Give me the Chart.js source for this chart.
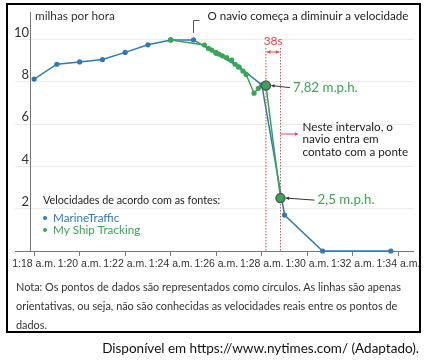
<!DOCTYPE html>
<html>
<head>
<meta charset="utf-8">
<script src="https://cdn.jsdelivr.net/npm/chart.js@4.4.1/dist/chart.umd.min.js"></script>
<style>
    body { margin: 0; background: #fff; }
    #wrap { position: relative; width: 429px; height: 362px; overflow: hidden; }
    #speedChart { position: absolute; left: 0; top: 0; }
    #box {
        position: absolute; left: 6px; top: 3px; width: 415px; height: 330px;
        box-sizing: border-box; border: 2px solid #000;
    }
    #note {
        position: absolute; left: 16px; top: 277px;
        font: 10.9px Lato, sans-serif; line-height: 19px; color: #333; white-space: nowrap;
    }
    #source {
        position: absolute; right: 10px; top: 340px;
        font: 13.5px Lato, sans-serif; color: #111; white-space: nowrap;
    }
</style>
</head>
<body>
<div id="wrap">
    <canvas id="speedChart" width="429" height="362"></canvas>
    <div id="box"></div>
    <div id="note">Nota: Os pontos de dados são representados como círculos. As linhas são apenas<br>orientativas, ou seja, não são conhecidas as velocidades reais entre os pontos de<br>dados.</div>
    <div id="source">Disponível em https://www.nytimes.com/ (Adaptado).</div>
</div>
<script>
// minutes after 1:18 a.m.
const mtTimes = [0, 1, 2, 3, 4, 5, 6, 7, 8, 9, 10, 11, 12.67, 15.67];
const mtSpeeds = [8.13, 8.83, 8.94, 9.05, 9.39, 9.75, 9.98, 9.98, 9.35, 8.7, 7.85, 1.7, 0, 0];

const mstTimes = [6, 7.48, 7.66, 7.8, 7.98, 8.12, 8.27, 8.46, 8.68, 8.83, 8.97, 9.17, 9.31, 9.66, 9.85, 10.18, 10.82];
const mstSpeeds = [9.98, 9.74, 9.58, 9.5, 9.39, 9.31, 9.23, 9.14, 9.03, 8.83, 8.71, 8.51, 8.35, 7.46, 7.69, 7.82, 2.5];

const xTicks = [0, 2, 4, 6, 8, 10, 12, 14, 16];
const yTicks = [0, 2, 4, 6, 8, 10];

const slowStart = 7;          // index in MarineTraffic: 1:25
const markIdx = [15, 16];     // My Ship Tracking points 7,82 and 2,5
const markLabels = ['7,82 m.p.h.', '2,5 m.p.h.'];

const BLUE = '#2e7ab8';
const GREEN = '#36a852';
const RED = '#e8454c';

function toPoints(xs, ys) {
    return xs.map((t, i) => ({ x: t, y: ys[i] }));
}

function arrowHead(ctx, x, y, angle, size) {
    ctx.beginPath();
    ctx.moveTo(x, y);
    ctx.lineTo(x - size * Math.cos(angle - 0.45), y - size * Math.sin(angle - 0.45));
    ctx.lineTo(x - size * Math.cos(angle + 0.45), y - size * Math.sin(angle + 0.45));
    ctx.closePath();
    ctx.fill();
}

const annotations = {
    id: 'annotations',
    afterDatasetsDraw(chart) {
        const { ctx, scales: { x, y }, chartArea } = chart;
        ctx.save();
        ctx.textBaseline = 'middle';
        ctx.textAlign = 'left';

        // unit label
        ctx.fillStyle = '#333';
        ctx.font = '11.8px Lato';
        ctx.fillText('milhas por hora', chartArea.left + 5, 16);

        // start of slowdown
        const sx = x.getPixelForValue(mtTimes[slowStart]);
        const sy = y.getPixelForValue(mtSpeeds[slowStart]);
        ctx.strokeStyle = '#555';
        ctx.lineWidth = 1;
        ctx.beginPath();
        ctx.moveTo(sx, sy - 7);
        ctx.lineTo(sx, 20.5);
        ctx.lineTo(sx + 6, 20.5);
        ctx.stroke();
        ctx.fillStyle = '#222';
        ctx.font = '11.6px Lato';
        ctx.fillText('O navio começa a diminuir a velocidade', sx + 14, 16);

        // 38 s interval
        const x1 = x.getPixelForValue(mstTimes[markIdx[0]]);
        const x2 = x.getPixelForValue(mstTimes[markIdx[1]]);
        ctx.strokeStyle = RED;
        ctx.fillStyle = RED;
        ctx.setLineDash([1.5, 1.5]);
        ctx.beginPath();
        ctx.moveTo(x1, 48); ctx.lineTo(x1, chartArea.bottom);
        ctx.moveTo(x2, 48); ctx.lineTo(x2, chartArea.bottom);
        ctx.stroke();
        ctx.setLineDash([]);
        ctx.beginPath();
        ctx.moveTo(x1 + 1, 52); ctx.lineTo(x2 - 1, 52);
        ctx.stroke();
        arrowHead(ctx, x1 + 1, 52, Math.PI, 4);
        arrowHead(ctx, x2 - 1, 52, 0, 4);
        ctx.font = '12px Lato';
        ctx.textAlign = 'center';
        ctx.fillText('38s', (x1 + x2) / 2, 41);

        // interval note
        ctx.beginPath();
        ctx.moveTo(x2, 134); ctx.lineTo(x2 + 16, 134);
        ctx.stroke();
        arrowHead(ctx, x2 + 18, 134, 0, 4);
        ctx.fillStyle = '#222';
        ctx.textAlign = 'left';
        ctx.font = '11.7px Lato';
        ctx.fillText('Neste intervalo, o', x2 + 22, 127);
        ctx.fillText('navio entra em', x2 + 22, 139.5);
        ctx.fillText('contato com a ponte', x2 + 22, 152);

        // marked speeds
        const offsets = [27, 37];
        markIdx.forEach((idx, k) => {
            const cx = x.getPixelForValue(mstTimes[idx]);
            const cy = y.getPixelForValue(mstSpeeds[idx]);
            const tx = cx + offsets[k];
            const ty = cy + 2;
            ctx.strokeStyle = '#333';
            ctx.fillStyle = '#333';
            ctx.lineWidth = 1;
            ctx.beginPath();
            ctx.moveTo(tx - 3, ty);
            ctx.lineTo(cx + 6, cy);
            ctx.stroke();
            arrowHead(ctx, cx + 5, cy, Math.atan2(cy - ty, cx - tx), 4);

            ctx.beginPath();
            ctx.arc(cx, cy, 4.5, 0, Math.PI * 2);
            ctx.fillStyle = GREEN;
            ctx.fill();
            ctx.strokeStyle = '#555';
            ctx.lineWidth = 1.5;
            ctx.stroke();

            ctx.fillStyle = GREEN;
            ctx.font = '13.3px Lato';
            ctx.fillText(markLabels[k], tx, ty);
        });

        // legend
        ctx.fillStyle = '#222';
        ctx.font = '10.8px Lato';
        ctx.fillText('Velocidades de acordo com as fontes:', 43, 201);
        [['MarineTraffic', BLUE, 218], ['My Ship Tracking', GREEN, 230]].forEach(([label, color, ly]) => {
            ctx.fillStyle = color;
            ctx.beginPath();
            ctx.arc(45, ly, 2, 0, Math.PI * 2);
            ctx.fill();
            ctx.font = '11.7px Lato';
            ctx.fillText(label, 53, ly);
        });

        ctx.restore();
    }
};

const ctx = document.getElementById('speedChart');

new Chart(ctx, {
    type: 'scatter',

    data: {
        datasets: [
            {
                label: 'My Ship Tracking',
                data: toPoints(mstTimes, mstSpeeds),
                showLine: true,
                borderColor: GREEN,
                backgroundColor: GREEN,
                borderWidth: 1.5,
                pointRadius: 2.6,
                pointBorderWidth: 0,
                clip: false,
                order: 0
            },
            {
                label: 'MarineTraffic',
                data: toPoints(mtTimes, mtSpeeds),
                showLine: true,
                borderColor: BLUE,
                backgroundColor: BLUE,
                borderWidth: 1.5,
                pointRadius: 2.6,
                pointBorderWidth: 0,
                clip: false,
                order: 1
            }
        ]
    },

    options: {
        responsive: false,
        animation: false,
        events: [],

        layout: {
            padding: { left: 0, top: 12, right: 16, bottom: 86 }
        },

        plugins: {
            legend: { display: false },
            tooltip: { enabled: false }
        },

        scales: {
            x: {
                type: 'linear',
                min: -0.18,
                max: 16.64,
                afterFit: (scale) => { scale.height = 25; },
                afterBuildTicks: (scale) => { scale.ticks = xTicks.map(v => ({ value: v })); },
                border: { color: '#777', width: 1 },
                grid: {
                    drawOnChartArea: false,
                    drawTicks: true,
                    tickLength: 5,
                    color: '#777'
                },
                ticks: {
                    autoSkip: false,
                    maxRotation: 0,
                    minRotation: 0,
                    padding: 2,
                    color: '#333',
                    font: { family: 'Liberation Sans', size: 10.5 },
                    callback: (v) => '1:' + (18 + v) + ' a.m.'
                }
            },

            y: {
                min: 0,
                max: 11.3,
                afterFit: (scale) => { scale.width = 30; },
                afterBuildTicks: (scale) => { scale.ticks = yTicks.map(v => ({ value: v })); },
                border: { color: '#777', width: 1 },
                grid: {
                    tickLength: 15,
                    color: (c) => (c.tick && c.tick.value === 0 ? '#777' : '#ececec')
                },
                ticks: {
                    padding: -14,
                    labelOffset: -7,
                    color: '#333',
                    font: { family: 'Lato', size: 13 },
                    callback: (v) => (v === 0 ? '' : v)
                }
            }
        }
    },

    plugins: [annotations]
});
</script>
</body>
</html>
